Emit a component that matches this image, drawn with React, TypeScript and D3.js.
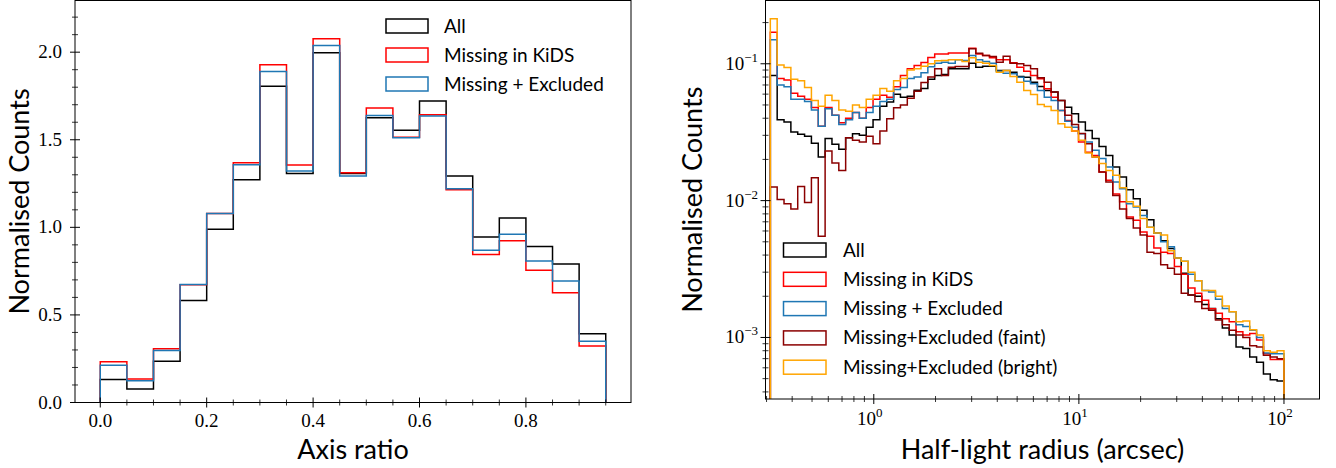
import React from "react";
import * as d3 from "d3";

// ---------- Left panel: axis ratio histograms (19 bins, width 0.05) ----------
const axisRatioBinStart = 0;
const axisRatioBinWidth = 0.05;
const axisRatioAll = [0.132, 0.077, 0.235, 0.583, 0.989, 1.272, 1.806, 1.307, 1.997, 1.307, 1.626, 1.554, 1.721, 1.293, 0.945, 1.054, 0.89, 0.79, 0.392];
const axisRatioMissing = [0.233, 0.134, 0.307, 0.672, 1.079, 1.369, 1.928, 1.356, 2.076, 1.312, 1.681, 1.515, 1.643, 1.215, 0.845, 0.923, 0.755, 0.626, 0.322];
const axisRatioMissExcl = [0.212, 0.124, 0.297, 0.674, 1.079, 1.358, 1.89, 1.322, 2.038, 1.293, 1.639, 1.512, 1.636, 1.221, 0.869, 0.961, 0.808, 0.693, 0.349];
const leftXTicks = [0, 0.2, 0.4, 0.6, 0.8];
const leftYTicks = [0, 0.5, 1.0, 1.5, 2.0];

// ---------- Right panel: half-light radius (75 log bins, 0.313 .. 100 arcsec) ----------
const radiusBinStart = 0.313;
const radiusBinEnd = 100;
const radiusBinCount = 75;
const radiusAll = [0.082, 0.039, 0.0375, 0.0317, 0.0305, 0.0295, 0.0263, 0.0208, 0.0284, 0.0258, 0.0237, 0.0288, 0.0308, 0.03, 0.0344, 0.039, 0.049, 0.0525, 0.06, 0.057, 0.058, 0.064, 0.066, 0.077, 0.082, 0.0835, 0.092, 0.092, 0.092, 0.101, 0.0945, 0.096, 0.096, 0.0894, 0.0894, 0.0868, 0.0808, 0.0798, 0.0734, 0.0683, 0.0638, 0.0621, 0.054, 0.0482, 0.0431, 0.0375, 0.0326, 0.0284, 0.0249, 0.0214, 0.0176, 0.0149, 0.012, 0.0103, 0.0085, 0.00726, 0.0058, 0.0051, 0.00446, 0.0038, 0.00295, 0.00204, 0.002, 0.00174, 0.00163, 0.00137, 0.00117, 0.00104, 0.00085, 0.00083, 0.00072, 0.00066, 0.00054, 0.00049, 0.00048];
const radiusMissing = [0.17, 0.078, 0.076, 0.061, 0.058, 0.055, 0.048, 0.035, 0.048, 0.042, 0.037, 0.04, 0.044, 0.04, 0.048, 0.055, 0.059, 0.057, 0.068, 0.082, 0.092, 0.097, 0.102, 0.111, 0.118, 0.118, 0.12, 0.12, 0.12, 0.13, 0.118, 0.115, 0.1106, 0.107, 0.107, 0.1017, 0.0945, 0.0883, 0.082, 0.0777, 0.0658, 0.057, 0.0456, 0.0385, 0.0322, 0.0268, 0.0226, 0.0214, 0.0162, 0.0141, 0.0112, 0.0098, 0.0076, 0.0072, 0.0059, 0.0055, 0.0045, 0.0042, 0.0041, 0.0033, 0.0029, 0.0023, 0.0021, 0.00187, 0.00162, 0.0015, 0.00137, 0.0013, 0.0011, 0.00104, 0.00107, 0.00096, 0.00076, 0.00069, 0.00069];
const radiusMissExcl = [0.15, 0.07, 0.068, 0.055, 0.055, 0.053, 0.046, 0.035, 0.047, 0.042, 0.036, 0.039, 0.044, 0.04, 0.044, 0.049, 0.053, 0.055, 0.065, 0.067, 0.078, 0.08, 0.086, 0.095, 0.101, 0.1028, 0.101, 0.107, 0.1057, 0.115, 0.107, 0.104, 0.101, 0.0883, 0.0854, 0.0845, 0.0798, 0.0746, 0.0714, 0.0638, 0.057, 0.054, 0.0456, 0.038, 0.0344, 0.0308, 0.0268, 0.0233, 0.0203, 0.0176, 0.0137, 0.0122, 0.0095, 0.009, 0.0078, 0.0064, 0.0058, 0.005, 0.0046, 0.0038, 0.0036, 0.0029, 0.0026, 0.0022, 0.00215, 0.0019, 0.00163, 0.00154, 0.00124, 0.0012, 0.00113, 0.001, 0.00077, 0.00076, 0.00076];
const radiusFaint = [0.0126, 0.0102, 0.0095, 0.0087, 0.0127, 0.0097, 0.0147, 0.0055, 0.023, 0.0188, 0.0166, 0.0288, 0.0276, 0.0268, 0.0295, 0.026, 0.0322, 0.0397, 0.0477, 0.05, 0.056, 0.063, 0.073, 0.08, 0.092, 0.082, 0.0945, 0.0955, 0.0955, 0.1286, 0.1195, 0.115, 0.113, 0.1028, 0.1136, 0.101, 0.1, 0.097, 0.092, 0.079, 0.0734, 0.0621, 0.054, 0.042, 0.036, 0.031, 0.026, 0.0208, 0.0162, 0.0137, 0.0109, 0.0087, 0.0074, 0.0063, 0.0056, 0.0042, 0.0041, 0.0034, 0.0032, 0.0029, 0.0021, 0.00204, 0.00182, 0.00163, 0.00158, 0.00134, 0.00124, 0.00113, 0.00104, 0.001, 0.00087, 0.00085, 0.00074, 0.00072, 0.0007];
const radiusBright = [0.213, 0.098, 0.094, 0.077, 0.075, 0.067, 0.054, 0.049, 0.059, 0.054, 0.046, 0.045, 0.05, 0.048, 0.055, 0.059, 0.066, 0.063, 0.075, 0.078, 0.09, 0.092, 0.096, 0.1, 0.105, 0.1057, 0.107, 0.107, 0.104, 0.1106, 0.1028, 0.101, 0.097, 0.0868, 0.0894, 0.0808, 0.0734, 0.0638, 0.0597, 0.0504, 0.0488, 0.0456, 0.0365, 0.0344, 0.0322, 0.0276, 0.0223, 0.0208, 0.0187, 0.0166, 0.0153, 0.0124, 0.0098, 0.0091, 0.0074, 0.0064, 0.0058, 0.0056, 0.0043, 0.0038, 0.0036, 0.003, 0.0026, 0.0022, 0.0022, 0.002, 0.0017, 0.00154, 0.0013, 0.00132, 0.00114, 0.00104, 0.0008, 0.00078, 0.0008];
const rightXTicks = [1, 10, 100];
const rightYTicks = [0.1, 0.01, 0.001];

const leftSeries = [
  { label: "All", color: "#000000", values: axisRatioAll },
  { label: "Missing in KiDS", color: "#ff0000", values: axisRatioMissing },
  { label: "Missing + Excluded", color: "#1f77b4", values: axisRatioMissExcl },
];
const rightSeries = [
  { label: "All", color: "#000000", values: radiusAll },
  { label: "Missing in KiDS", color: "#ff0000", values: radiusMissing },
  { label: "Missing + Excluded", color: "#1f77b4", values: radiusMissExcl },
  { label: "Missing+Excluded (faint)", color: "#8b0000", values: radiusFaint },
  { label: "Missing+Excluded (bright)", color: "#ffa500", values: radiusBright },
];

const SANS = "Lato, 'Open Sans', sans-serif";
const SERIF = "'Liberation Serif', 'DejaVu Serif', serif";

function stepPath(edges: number[], values: number[], x: (v: number) => number, y: (v: number) => number, bottom: number) {
  const p = d3.path();
  p.moveTo(x(edges[0]), bottom);
  values.forEach((v, i) => {
    p.lineTo(x(edges[i]), y(v));
    p.lineTo(x(edges[i + 1]), y(v));
  });
  p.lineTo(x(edges[edges.length - 1]), bottom);
  return p.toString();
}

function LeftPanel() {
  const L = 75, R = 631, T = 0.5, B = 402.5;
  const x = d3.scaleLinear().domain([-0.0475, 0.9975]).range([L, R]);
  const y = d3.scaleLinear().domain([0, 2.295]).range([B, T]);
  const edges = d3.range(axisRatioAll.length + 1).map((i) => axisRatioBinStart + i * axisRatioBinWidth);
  const xMinor = d3.range(0, 20).map((i) => i * 0.05).filter((v) => !leftXTicks.some((t) => Math.abs(t - v) < 1e-9));
  const yMinor = d3.range(0, 23).map((i) => i * 0.1).filter((v) => !leftYTicks.some((t) => Math.abs(t - v) < 1e-9));
  return (
    <g>
      <defs>
        <clipPath id="clipL"><rect x={L} y={T} width={R - L} height={B - T} /></clipPath>
      </defs>
      <g clipPath="url(#clipL)" fill="none" strokeWidth={1.5}>
        {leftSeries.map((s) => (
          <path key={s.label} d={stepPath(edges, s.values, x, y, B + 5)} stroke={s.color} strokeLinejoin="miter" />
        ))}
      </g>
      <rect x={L} y={T} width={R - L} height={B - T} fill="none" stroke="#000" strokeWidth={1} />
      {leftXTicks.map((t) => (
        <g key={"xt" + t}>
          <line x1={x(t)} x2={x(t)} y1={B - 5} y2={B + 5} stroke="#000" strokeWidth={1} />
          <text x={x(t)} y={427} textAnchor="middle" fontFamily={SERIF} fontSize={19}>{t.toFixed(1)}</text>
        </g>
      ))}
      {xMinor.map((t) => (
        <line key={"xm" + t} x1={x(t)} x2={x(t)} y1={B - 3} y2={B + 3} stroke="#000" strokeWidth={0.8} />
      ))}
      {leftYTicks.map((t) => (
        <g key={"yt" + t}>
          <line x1={L - 5} x2={L + 5} y1={y(t)} y2={y(t)} stroke="#000" strokeWidth={1} />
          <text x={62} y={y(t) + 6} textAnchor="end" fontFamily={SERIF} fontSize={19}>{t.toFixed(1)}</text>
        </g>
      ))}
      {yMinor.map((t) => (
        <line key={"ym" + t} x1={L - 3} x2={L + 3} y1={y(t)} y2={y(t)} stroke="#000" strokeWidth={0.8} />
      ))}
      <text x={(L + R) / 2} y={459} textAnchor="middle" fontFamily={SANS} fontSize={27}>Axis ratio</text>
      <text transform={`translate(29,${(T + B) / 2}) rotate(-90)`} textAnchor="middle" fontFamily={SANS} fontSize={27}>Normalised Counts</text>
      {leftSeries.map((s, i) => {
        const cy = 26 + i * 29;
        return (
          <g key={"lg" + s.label}>
            <rect x={386} y={cy - 7} width={42} height={14} fill="none" stroke={s.color} strokeWidth={1.5} />
            <text x={444} y={cy + 6.5} fontFamily={SANS} fontSize={19}>{s.label}</text>
          </g>
        );
      })}
    </g>
  );
}

function Pow10({ x, y, exp, anchor }: { x: number; y: number; exp: string; anchor: string }) {
  return (
    <text x={x} y={y} textAnchor={anchor} fontFamily={SERIF} fontSize={19}>
      10<tspan dy={-8} fontSize={13}>{exp}</tspan>
    </text>
  );
}

function RightPanel() {
  const L = 765.5, R = 1319.5, T = 0.5, B = 399;
  const x = d3.scaleLog().domain([0.2965, 149]).range([L, R]);
  const y = d3.scaleLog().domain([3.55e-4, 0.29]).range([B, T]);
  const lo = Math.log10(radiusBinStart), hi = Math.log10(radiusBinEnd);
  const edges = d3.range(radiusBinCount + 1).map((i) => Math.pow(10, lo + (i * (hi - lo)) / radiusBinCount));
  const xMinor: number[] = [];
  [0.1, 1, 10].forEach((d) => { for (let k = 2; k <= 9; k++) { const v = k * d; if (v >= 0.2965 && v <= 149) xMinor.push(v); } });
  const yMinor: number[] = [];
  [0.0001, 0.001, 0.01, 0.1].forEach((d) => { for (let k = 2; k <= 9; k++) { const v = k * d; if (v >= 3.55e-4 && v <= 0.29) yMinor.push(v); } });
  return (
    <g>
      <defs>
        <clipPath id="clipR"><rect x={L} y={T} width={R - L} height={B - T} /></clipPath>
      </defs>
      <g clipPath="url(#clipR)" fill="none" strokeWidth={1.5}>
        {rightSeries.map((s) => (
          <path key={s.label} d={stepPath(edges, s.values, x, y, B + 5)} stroke={s.color} />
        ))}
      </g>
      <rect x={L} y={T} width={R - L} height={B - T} fill="none" stroke="#000" strokeWidth={1} />
      {rightXTicks.map((t, i) => (
        <g key={"xt" + t}>
          <line x1={x(t)} x2={x(t)} y1={B - 5} y2={B + 5} stroke="#000" strokeWidth={1} />
          <Pow10 x={x(t) - 4} y={425} exp={String(i)} anchor="middle" />
        </g>
      ))}
      {xMinor.map((t) => (
        <line key={"xm" + t} x1={x(t)} x2={x(t)} y1={B - 3} y2={B + 3} stroke="#000" strokeWidth={0.8} />
      ))}
      {rightYTicks.map((t, i) => (
        <g key={"yt" + t}>
          <line x1={L - 5} x2={L + 5} y1={y(t)} y2={y(t)} stroke="#000" strokeWidth={1} />
          <Pow10 x={758} y={y(t) + 6} exp={"\u2212" + (i + 1)} anchor="end" />
        </g>
      ))}
      {yMinor.map((t) => (
        <line key={"ym" + t} x1={L - 3} x2={L + 3} y1={y(t)} y2={y(t)} stroke="#000" strokeWidth={0.8} />
      ))}
      <text x={(L + R) / 2} y={459} textAnchor="middle" fontFamily={SANS} fontSize={27}>Half-light radius (arcsec)</text>
      <text transform={`translate(702,${(T + B) / 2}) rotate(-90)`} textAnchor="middle" fontFamily={SANS} fontSize={27}>Normalised Counts</text>
      {rightSeries.map((s, i) => {
        const cy = 250 + i * 29.3;
        return (
          <g key={"lg" + s.label}>
            <rect x={783.5} y={cy - 7} width={42.5} height={14} fill="none" stroke={s.color} strokeWidth={1.5} />
            <text x={843} y={cy + 6.5} fontFamily={SANS} fontSize={19}>{s.label}</text>
          </g>
        );
      })}
    </g>
  );
}

export default function App() {
  return (
    <svg width={1336} height={468} viewBox="0 0 1336 468" style={{ position: "absolute", left: 0, top: 0, background: "#fff" }}>
      <rect x={0} y={0} width={1336} height={468} fill="#fff" />
      <LeftPanel />
      <RightPanel />
    </svg>
  );
}
